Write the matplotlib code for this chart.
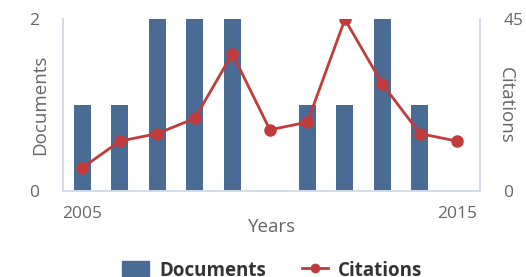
import matplotlib
matplotlib.use("Agg")
import matplotlib.pyplot as plt
from matplotlib.lines import Line2D
from matplotlib.patches import Patch

plt.rcParams["font.family"] = ["Open Sans", "DejaVu Sans"]

years = [2005, 2006, 2007, 2008, 2009, 2010, 2011, 2012, 2013, 2014, 2015]
documents = [1, 1, 2, 2, 2, 0, 1, 1, 2, 1, 0]
citations = [6, 13, 15, 19, 36, 16, 18, 45, 28, 15, 13]

bar_color = "#4a6b93"
line_color = "#c23b3c"
axis_color = "#d3dcea"
text_color = "#666666"

fig = plt.figure(figsize=(5.26, 2.77), dpi=100)
ax = fig.add_axes([0.12, 0.3116, 0.7925, 0.6184])
ax.bar(years, documents, width=0.45, color=bar_color, zorder=2)
ax.set_xlim(2004.49, 2015.6)
ax.set_ylim(0, 2)
ax.set_yticks([0, 2])
ax.set_xticks([2005, 2015])
ax.spines["top"].set_visible(False)
for s in ["left", "bottom", "right"]:
    ax.spines[s].set_color(axis_color)
    ax.spines[s].set_linewidth(1.2)
ax.tick_params(axis="both", length=0, colors=text_color, labelsize=12.5)
ax.tick_params(axis="y", pad=17)
ax.tick_params(axis="x", pad=11)
ax.set_ylabel("Documents", color=text_color, fontsize=13.5, va="center")
ax.yaxis.set_label_coords(-0.055, 0.5)
ax.set_xlabel("Years", color=text_color, fontsize=13.5, labelpad=-3)

ax2 = ax.twinx()
ax2.plot(years, citations, color=line_color, linewidth=2, marker="o",
         markersize=8, zorder=3)
ax2.set_ylim(0, 45)
ax2.set_yticks([0, 45])
ax2.spines["top"].set_visible(False)
for s in ["left", "bottom", "right"]:
    ax2.spines[s].set_color(axis_color)
    ax2.spines[s].set_linewidth(1.2)
ax2.tick_params(axis="y", length=0, colors=text_color, labelsize=12.5, pad=17)
ax2.set_ylabel("Citations", color=text_color, fontsize=13.5, rotation=270,
               va="center")
ax2.yaxis.set_label_coords(1.063, 0.5)

handles = [Patch(color=bar_color, label="Documents"),
           Line2D([0], [0], color=line_color, lw=2, marker="o", markersize=6,
                  label="Citations")]
leg = fig.legend(handles=handles, loc="center", bbox_to_anchor=(0.518, 0.022),
                 ncol=2, frameon=False, prop={"weight": "bold", "size": 13.5},
                 handlelength=1.4, handleheight=1.15, columnspacing=1.9,
                 handletextpad=0.55)
for t in leg.get_texts():
    t.set_color("#333333")

fig.savefig("out.png", dpi=100)
